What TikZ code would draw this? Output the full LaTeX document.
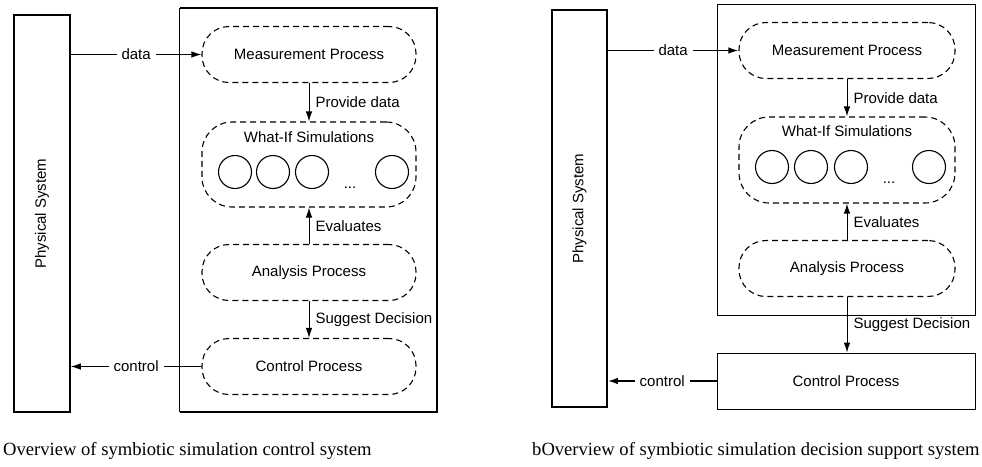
\documentclass[tikz,border=0pt]{standalone}
\usepackage{fontspec}
\setmainfont{Liberation Serif}
\setsansfont{Liberation Sans}
\usetikzlibrary{arrows.meta}

\tikzset{
  sysbox/.style={draw, line width=1.6pt, inner sep=0pt},
  procbox/.style={draw, dash pattern=on 6pt off 4pt, line width=1.1pt,
    rounded corners=27pt, minimum width=214pt, minimum height=56pt, inner sep=0pt},
  simcirc/.style={draw, circle, line width=1.1pt, minimum size=33pt, inner sep=0pt},
  flow/.style={line width=1pt, -{Latex[length=10pt,width=6.5pt]}},
  tag/.style={fill=white, inner sep=5pt},
  steptag/.style={anchor=west, inner sep=1pt, xshift=5pt},
  caption/.style={font=\rmfamily\fontsize{18.6}{22}\selectfont, anchor=base west, inner sep=0pt},
}

\begin{document}
\begin{tikzpicture}[x=1pt, y=-1pt, font=\sffamily\fontsize{15}{18}\selectfont]
  \useasboundingbox (0,0) rectangle (982,466);

  % --- control system ---
  \node[sysbox, minimum width=56pt, minimum height=397pt] (psL) at (42,213.5) {\rotatebox{90}{Physical System}};
  \node[minimum width=257pt, minimum height=404pt] (sysL) at (308.5,210) {};
  \draw[line width=1.6pt] (sysL.north west) -- (sysL.north east) -- (sysL.south east) -- (sysL.south west);
  \draw[line width=0.8pt] (sysL.north west) -- (sysL.south west);

  \node[procbox] (measL) at (309,54.5) {Measurement Process};
  \node[procbox, minimum height=85pt, rounded corners=30pt] (whatifL) at (309,164.5) {};
  \node (wiTitleL) at (309,137) {What-If Simulations};
  \node[simcirc] (simL1) at (235,172) {};
  \node[simcirc] (simL2) at (273,172) {};
  \node[simcirc] (simL3) at (312,172) {};
  \node[simcirc] (simL4) at (392,172) {};
  \node[anchor=base] (dotsL) at (350,188) {...};
  \node[procbox] (analL) at (309,272.5) {Analysis Process};
  \node[procbox] (ctrlL) at (309,366.5) {Control Process};

  \draw[flow] (psL.east |- measL.west) -- node[tag] {data} (measL.west);
  \draw[flow] (measL.south) -- node[steptag] {Provide data} (whatifL.north);
  \draw[flow] (analL.north) -- node[steptag] {Evaluates} (whatifL.south);
  \draw[flow] (analL.south) -- node[steptag] {Suggest Decision} (ctrlL.north);
  \draw[flow] (ctrlL.west) -- node[tag] {control} (psL.east |- ctrlL.west);

  \node[caption] (capL) at (3,455) {Overview of symbiotic simulation control system};

  % --- decision support system ---
  \node[sysbox, minimum width=55pt, minimum height=397pt] (psR) at (579.5,208.5) {\rotatebox{90}{Physical System}};
  \node[draw, line width=0.9pt, minimum width=258pt, minimum height=311pt] (sysR) at (846,159.5) {};

  \node[procbox, minimum width=216pt] (measR) at (847,50.5) {Measurement Process};
  \node[procbox, minimum width=216pt, minimum height=86pt, rounded corners=30pt] (whatifR) at (847,160) {};
  \node (wiTitleR) at (847,131) {What-If Simulations};
  \node[simcirc] (simR1) at (772,167) {};
  \node[simcirc] (simR2) at (811,167) {};
  \node[simcirc] (simR3) at (851,167) {};
  \node[simcirc] (simR4) at (929,167) {};
  \node[anchor=base] (dotsR) at (889,183) {...};
  \node[procbox, minimum width=216pt] (analR) at (847,268.5) {Analysis Process};
  \node[draw, line width=0.9pt, minimum width=258pt, minimum height=56pt] (ctrlR) at (846,381) {Control Process};

  \draw[flow, line width=1.6pt] (psR.east |- measR.west) -- node[tag] {data} (measR.west);
  \draw[flow] (measR.south) -- node[steptag] {Provide data} (whatifR.north);
  \draw[flow] (analR.north) -- node[steptag] {Evaluates} (whatifR.south);
  \draw[flow] (analR.south) -- node[steptag] {Suggest Decision} (analR.south |- ctrlR.north);
  \draw[flow, line width=1.6pt] (ctrlR.west) -- node[tag] {control} (psR.east |- ctrlR.west);

  \node[caption] (capR) at (532,455) {bOverview of symbiotic simulation decision support system};
\end{tikzpicture}
\end{document}
